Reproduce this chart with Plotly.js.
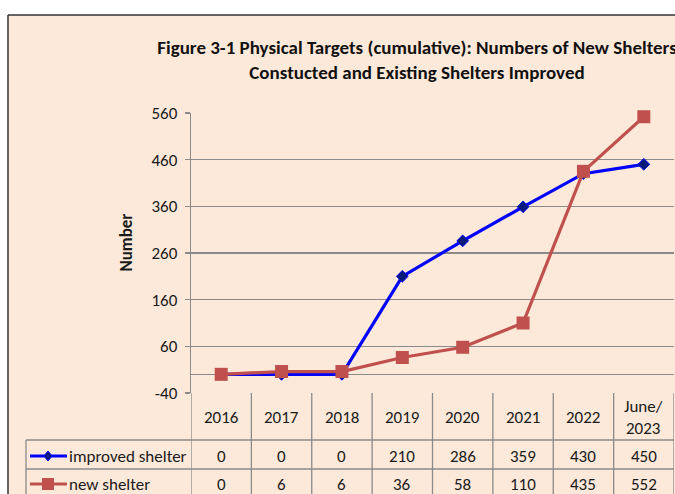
<!DOCTYPE html>
<html>
<head>
<meta charset="utf-8">
<script src="https://cdn.plot.ly/plotly-3.0.1.min.js"></script>
<style>html,body{margin:0;padding:0;background:#fff;}#chart{width:675px;height:494px;}</style>
</head>
<body>
<div id="chart"></div>
<script>
// ---- data ----
const categories = ['2016', '2017', '2018', '2019', '2020', '2021', '2022', 'June/2023'];
const headerLabels = ['2016', '2017', '2018', '2019', '2020', '2021', '2022', 'June/<br>2023'];
const improvedShelter = [0, 0, 0, 210, 286, 359, 430, 450];
const newShelter = [0, 6, 6, 36, 58, 110, 435, 552];
const seriesNames = ['improved shelter', 'new shelter'];
const yTickVals = [-40, 60, 160, 260, 360, 460, 560];

// ---- layout helpers (pixel -> paper) ----
const L = 191, R = 674, T = 113, B = 393, W = 675, H = 494;
const px = p => (p - L) / (R - L);
const py = p => (B - p) / (B - T);

const FONT = "Carlito, Lato, 'Open Sans', sans-serif";
const BG = '#FDE9D9';
const GRID = '#8a8a8a';
const BLUE = '#0000FF';
const NAVY = '#0A1A7A';
const RED = '#C0504D';
const TXT = '#1a1a1a';

const traces = [
  {
    x: categories, y: improvedShelter, name: seriesNames[0], type: 'scatter', mode: 'lines+markers',
    line: {color: BLUE, width: 3.2},
    marker: {symbol: 'diamond', size: 9, color: NAVY, line: {color: BLUE, width: 1}},
    cliponaxis: false
  },
  {
    x: categories, y: newShelter, name: seriesNames[1], type: 'scatter', mode: 'lines+markers',
    line: {color: RED, width: 3.2},
    marker: {symbol: 'square', size: 13, color: RED},
    cliponaxis: false
  }
];

const shapes = [];
const annotations = [];

// white outside strips + outer frame
shapes.push({type: 'rect', xref: 'paper', yref: 'paper', x0: px(-5), x1: px(W + 5), y0: py(15), y1: py(-5), fillcolor: '#fff', line: {width: 0}, layer: 'above'});
shapes.push({type: 'rect', xref: 'paper', yref: 'paper', x0: px(-5), x1: px(8), y0: py(H + 5), y1: py(-5), fillcolor: '#fff', line: {width: 0}, layer: 'above'});
shapes.push({type: 'line', xref: 'paper', yref: 'paper', x0: px(8), x1: px(W + 5), y0: py(15), y1: py(15), line: {color: '#333', width: 1.5}, layer: 'above'});
shapes.push({type: 'line', xref: 'paper', yref: 'paper', x0: px(8), x1: px(8), y0: py(15), y1: py(H + 5), line: {color: '#333', width: 1.5}, layer: 'above'});

// table grid
const rowLine1 = 440, rowLine2 = 469, tableBottom = 498;
for (let i = 0; i <= categories.length; i++) {
  shapes.push({type: 'line', xref: 'x', yref: 'paper', x0: i - 0.5, x1: i - 0.5, y0: py(B), y1: py(tableBottom), line: {color: GRID, width: 1.3}});
}
[rowLine1, rowLine2, tableBottom].forEach(r => {
  shapes.push({type: 'line', xref: 'paper', yref: 'paper', x0: px(26), x1: px(R), y0: py(r), y1: py(r), line: {color: GRID, width: 1.3}});
});
shapes.push({type: 'line', xref: 'paper', yref: 'paper', x0: px(26), x1: px(26), y0: py(rowLine1), y1: py(tableBottom), line: {color: GRID, width: 1.3}});

// header labels (x given as category index)
categories.forEach((c, i) => {
  annotations.push({x: i, xref: 'x', y: py(417), yref: 'paper', text: headerLabels[i], showarrow: false,
    font: {family: FONT, size: 17, color: TXT}, yanchor: 'middle'});
});
// value rows
const rows = [{vals: improvedShelter, y: 456}, {vals: newShelter, y: 484}];
rows.forEach(row => {
  row.vals.forEach((v, i) => {
    annotations.push({x: i, xref: 'x', y: py(row.y), yref: 'paper', text: String(v), showarrow: false,
      font: {family: FONT, size: 17, color: TXT}, yanchor: 'middle'});
  });
});
// legend keys in table
rows.forEach((row, k) => {
  const col = k === 0 ? BLUE : RED;
  shapes.push({type: 'line', xref: 'paper', yref: 'paper', x0: px(30), x1: px(67), y0: py(row.y), y1: py(row.y), line: {color: col, width: 3.2}});
  if (k === 0) {
    const cx = px(48), cy = py(row.y), dx = 4 / (R - L), dy = 5 / (B - T);
    shapes.push({type: 'path', xref: 'paper', yref: 'paper',
      path: `M ${cx - dx} ${cy} L ${cx} ${cy + dy} L ${cx + dx} ${cy} L ${cx} ${cy - dy} Z`,
      fillcolor: NAVY, line: {color: BLUE, width: 1}});
  } else {
    shapes.push({type: 'rect', xref: 'paper', yref: 'paper', x0: px(42), x1: px(54), y0: py(row.y - 6), y1: py(row.y + 6),
      fillcolor: RED, line: {width: 0}});
  }
  annotations.push({x: px(67), xref: 'paper', y: py(row.y), yref: 'paper', text: seriesNames[k], showarrow: false,
    xanchor: 'left', yanchor: 'middle', font: {family: FONT, size: 17, color: TXT}});
});

// y-axis title
annotations.push({x: px(113), xref: 'paper', y: py(243), yref: 'paper', text: '<b>Number</b>', textangle: -90, showarrow: false,
  font: {family: FONT, size: 17, color: TXT}});

const layout = {
  width: W, height: H,
  margin: {l: L, r: W - R, t: T, b: H - B, pad: 0},
  paper_bgcolor: BG, plot_bgcolor: 'rgba(0,0,0,0)',
  showlegend: false,
  title: {
    text: '<b>Figure 3-1 Physical Targets (cumulative): Numbers of New Shelters<br>Constucted and Existing Shelters Improved</b>',
    x: 417 / W, xref: 'container', xanchor: 'center',
    y: 1 - 54 / H, yref: 'container', yanchor: 'top',
    font: {family: FONT, size: 19, color: '#111'}
  },
  xaxis: {
    type: 'category', range: [-0.5, 7.5], showticklabels: false, showgrid: false, zeroline: false,
    showline: false, ticks: '', fixedrange: true
  },
  yaxis: {
    range: [-40, 560], tickvals: yTickVals, ticktext: yTickVals.map(String),
    showgrid: true, gridcolor: GRID, gridwidth: 1.3,
    zeroline: true, zerolinecolor: GRID, zerolinewidth: 1.3,
    showline: true, linecolor: GRID, linewidth: 1.3,
    ticks: 'outside', ticklen: 5, tickcolor: GRID, tickwidth: 1.3,
    ticklabelstandoff: 4,
    tickfont: {family: FONT, size: 17, color: TXT},
    fixedrange: true
  },
  shapes: shapes,
  annotations: annotations
};

Plotly.newPlot('chart', traces, layout, {staticPlot: true, displayModeBar: false});
</script>
</body>
</html>
